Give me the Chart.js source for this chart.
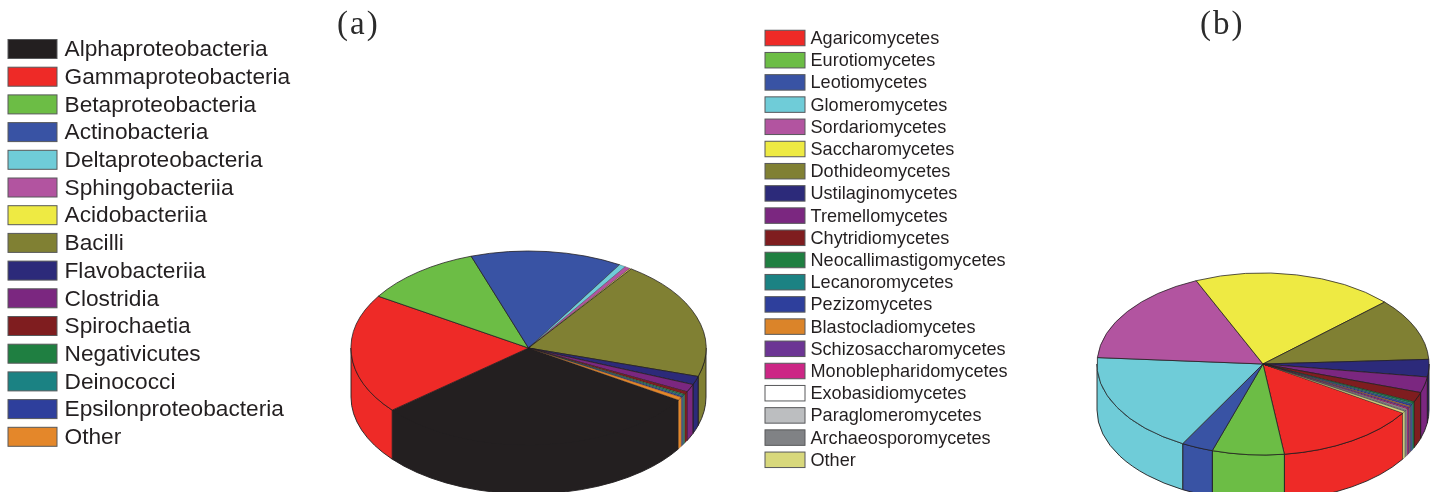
<!DOCTYPE html>
<html>
<head>
<meta charset="utf-8">
<style>
html,body{margin:0;padding:0;background:#fff;overflow:hidden;width:1440px;height:492px}
canvas{position:absolute;top:0}
#a{left:0}
#b{left:720px}
</style>
<script src="https://cdn.jsdelivr.net/npm/chart.js@4/dist/chart.umd.min.js"></script>
</head>
<body>
<canvas id="a" width="720" height="492"></canvas>
<canvas id="b" width="720" height="492"></canvas>
<script>
const bacteriaLabels = ["Alphaproteobacteria","Gammaproteobacteria","Betaproteobacteria","Actinobacteria","Deltaproteobacteria","Sphingobacteriia","Acidobacteriia","Bacilli","Flavobacteriia","Clostridia","Spirochaetia","Negativicutes","Deinococci","Epsilonproteobacteria","Other"];
const bacteriaValues = [29.9,20.0,10.8,13.8,0.6,0.5,0.14,19.9,1.4,1.3,0.45,0.2,0.2,0.2,0.5];
const bacteriaColors = ["#231f20","#ee2a27","#6cbd45","#3953a4","#6fccd8","#b254a0","#eeea43","#808033","#2c2a7a","#7b2780","#7f1d1f","#1f7f41","#1b8283","#2e3f9c","#e4872a"];

const fungiLabels = ["Agaricomycetes","Eurotiomycetes","Leotiomycetes","Glomeromycetes","Sordariomycetes","Saccharomycetes","Dothideomycetes","Ustilaginomycetes","Tremellomycetes","Chytridiomycetes","Neocallimastigomycetes","Lecanoromycetes","Pezizomycetes","Blastocladiomycetes","Schizosaccharomycetes","Monoblepharidomycetes","Exobasidiomycetes","Paraglomeromycetes","Archaeosporomycetes","Other"];
const fungiValues = [13.9,7.0,3.1,18.1,17.3,19.7,11.1,3.1,2.8,1.75,0.25,0.25,0.33,0.17,0.25,0.2,0.11,0.14,0.2,0.33];
const fungiColors = ["#ee2a27","#6cbd45","#3953a4","#6fccd8","#b254a0","#eeea43","#808033","#2c2a7a","#7b2780","#7f1d1f","#1f7f41","#1b8283","#2e3f9c","#db8429","#6c3594","#cc2685","#ffffff","#bcbec0","#808285","#d8d87c"];

const edge = "#231f20";
const isThin = v => v < 1;

const panelPlugin = {
  id: "panel",
  beforeDatasetsDraw(chart, args, o) {
    const ctx = chart.ctx, arcs = chart.getDatasetMeta(0).data;
    const a0 = arcs[0], rx = a0.outerRadius, cx = a0.x;
    const TAU = Math.PI * 2;
    const ds = chart.data.datasets[0];
    const wall = (top, lo, hi) => {
      ctx.beginPath();
      ctx.ellipse(cx, top, rx, o.ry, 0, lo, hi);
      ctx.ellipse(cx, o.cy + o.depth, rx, o.ry, 0, hi, lo, true);
      ctx.closePath();
    };
    ctx.save();
    ctx.strokeStyle = edge;
    arcs.forEach((arc, i) => {
      ctx.lineWidth = isThin(ds.data[i]) ? 0.25 : 0.9;
      for (let k = -1; k <= 1; k++) {
        const lo = Math.max(arc.startAngle + k * TAU, 0);
        const hi = Math.min(arc.endAngle + k * TAU, Math.PI);
        if (hi <= lo) continue;
        wall(o.cy - 0.8, lo, hi);
        ctx.fillStyle = ds.backgroundColor[i];
        ctx.fill();
        wall(o.cy, lo, hi);
        ctx.stroke();
      }
    });
    ctx.restore();
    ctx.save();
    ctx.translate(0, o.cy);
    ctx.scale(1, o.ry / rx);
    ctx.translate(0, -a0.y);
  },
  afterDatasetsDraw(chart) {
    chart.ctx.restore();
  },
  afterDraw(chart, args, o) {
    const ctx = chart.ctx;
    ctx.save();
    ctx.textBaseline = "middle";
    ctx.textAlign = "left";
    ctx.fillStyle = "#2b2b2b";
    ctx.font = o.titleFont;
    ctx.letterSpacing = "2px";
    ctx.fillText(o.title, o.titleX, o.titleY);
    ctx.letterSpacing = "0px";
    ctx.font = o.legendFont;
    const colors = chart.data.datasets[0].backgroundColor;
    chart.data.labels.forEach((label, i) => {
      const y = o.legendY + i * o.legendStep;
      ctx.fillStyle = colors[i];
      ctx.fillRect(o.legendX, y - o.boxH / 2, o.boxW, o.boxH);
      ctx.strokeStyle = "#58595b";
      ctx.lineWidth = 1;
      ctx.strokeRect(o.legendX, y - o.boxH / 2, o.boxW, o.boxH);
      ctx.fillStyle = "#231f20";
      ctx.fillText(label, o.textX, y + 1);
    });
    ctx.restore();
  }
};

function makeChart(id, labels, values, colors, rotation, pad, radius, panel) {
  return new Chart(document.getElementById(id), {
    type: "pie",
    data: { labels, datasets: [{ data: values, backgroundColor: colors, borderColor: edge,
      borderWidth: c => isThin(values[c.dataIndex]) ? 0.4 : 1, clip: false }] },
    options: {
      responsive: false,
      animation: false,
      devicePixelRatio: 1,
      rotation,
      radius,
      layout: { padding: pad },
      plugins: { legend: { display: false }, tooltip: { enabled: false }, panel }
    },
    plugins: [panelPlugin]
  });
}

makeChart("a", bacteriaLabels, bacteriaValues, bacteriaColors, 122.4,
  { left: 351, right: 14, top: 0, bottom: 0 }, 177.5,
  { cy: 348, ry: 97, depth: 49, title: "(a)", titleX: 337, titleY: 25, titleFont: "33px 'Liberation Serif'",
    legendFont: "22.7px 'Liberation Sans'", legendX: 8, legendY: 49, legendStep: 27.7, boxW: 49, boxH: 19, textX: 64.5 });

makeChart("b", fungiLabels, fungiValues, fungiColors, 122.6,
  { left: 377, right: 11, top: 0, bottom: 0 }, 166,
  { cy: 364, ry: 91, depth: 46, title: "(b)", titleX: 480, titleY: 25, titleFont: "33px 'Liberation Serif'",
    legendFont: "18.1px 'Liberation Sans'", legendX: 45, legendY: 38, legendStep: 22.2, boxW: 40, boxH: 15.5, textX: 90.5 });
</script>
</body>
</html>
